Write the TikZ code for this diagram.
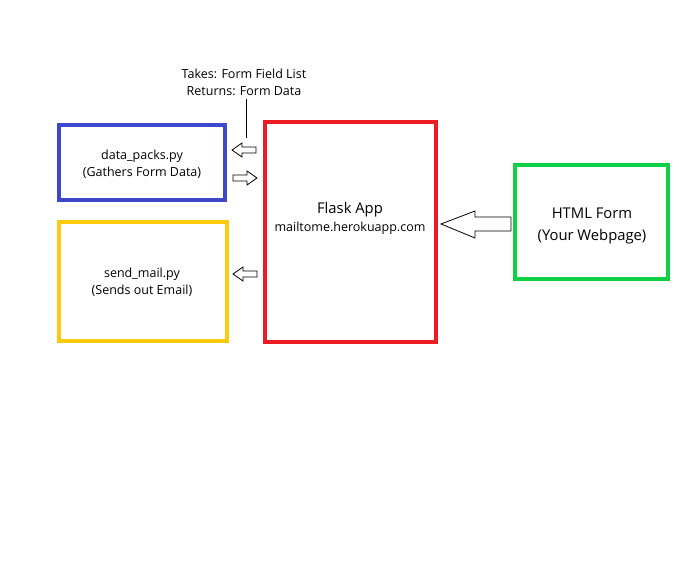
\documentclass[tikz,border=0pt]{standalone}
\usepackage{fontspec}
\setmainfont{Open Sans}
\begin{document}
\begin{tikzpicture}[x=1pt,y=-1pt,
  box/.style={draw, line width=4pt},
  lbl/.style={align=center, inner sep=0pt, font=\fontsize{12.5}{17}\selectfont},
  biglbl/.style={align=center, inner sep=0pt, font=\fontsize{14.8}{22}\selectfont},
  barrow/.style={draw=black, fill=white, line width=0.8pt, line join=miter}]
\useasboundingbox (0,0) rectangle (696,564);
\definecolor{cblue}{RGB}{63,72,204}
\definecolor{cyellow}{RGB}{255,201,14}
\definecolor{cred}{RGB}{237,28,36}
\definecolor{cgreen}{RGB}{14,209,69}

\draw[box, cblue] (59,125) rectangle (225,200);
\draw[box, cyellow] (59,222) rectangle (227,341);
\draw[box, cred] (265,122) rectangle (436,342);
\draw[box, cgreen] (515,165) rectangle (668,279);

\node[lbl] (dp) at (142,164) {data\_packs.py\\(Gathers Form Data)};
\node[lbl] (sm) at (142,282) {send\_mail.py\\(Sends out Email)};
\node[biglbl] (fa) at (350,210) {Flask App};
\node[lbl] (fu) at (350,228) {mailtome.herokuapp.com};
\node[biglbl] (hf) at (592,226) {HTML Form\\(Your Webpage)};
\node[lbl] (tk) at (244,82) {Takes: Form Field List\\Returns: Form Data};

\coordinate (lineend) at (246,138);
\draw[line width=0.8pt] (tk.south -| lineend) ++(0,3) -- (lineend);

% small hollow block arrows
\draw[barrow] (232,150) -- (242,143) -- (242,147) -- (256,147) -- (256,153) -- (242,153) -- (242,157) -- cycle;
\draw[barrow] (257,178) -- (247,171) -- (247,175) -- (233,175) -- (233,181) -- (247,181) -- (247,185) -- cycle;
\draw[barrow] (233,274) -- (243,267) -- (243,271) -- (257,271) -- (257,277) -- (243,277) -- (243,281) -- cycle;
% big arrow
\draw[barrow] (441,224) -- (475,211) -- (475,217) -- (511,217) -- (511,231) -- (475,231) -- (475,238) -- cycle;
\end{tikzpicture}
\end{document}
